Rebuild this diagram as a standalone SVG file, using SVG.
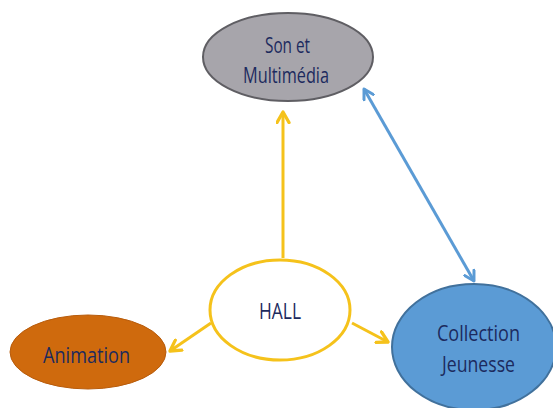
<svg xmlns="http://www.w3.org/2000/svg" width="553" height="408" viewBox="0 0 553 408">
  <style>
    .lbl { font-family: "Open Sans", "Liberation Sans", sans-serif; fill: #1c2a5e; font-size: 22px; }
    .yl { stroke: #f5c21b; stroke-width: 3; fill: none; }
    .bl { stroke: #5b9bd5; stroke-width: 3; fill: none; }
  </style>
  <defs>
    <marker id="openY" viewBox="0 0 10 10" refX="8" refY="5" markerWidth="5" markerHeight="5" orient="auto-start-reverse" markerUnits="strokeWidth">
      <path d="M1,1 L8,5 L1,9" fill="none" stroke="#f5c21b" stroke-width="2.2" stroke-linecap="round" stroke-linejoin="round"/>
    </marker>
    <marker id="openB" viewBox="0 0 10 10" refX="8" refY="5" markerWidth="4.5" markerHeight="4.5" orient="auto-start-reverse" markerUnits="strokeWidth">
      <path d="M1,1 L8,5 L1,9" fill="none" stroke="#5b9bd5" stroke-width="2.2" stroke-linecap="round" stroke-linejoin="round"/>
    </marker>
  </defs>
  <rect width="553" height="408" fill="#ffffff"/>

  <g id="connectors">
    <line class="yl" x1="283" y1="258" x2="283" y2="112" marker-end="url(#openY)"/>
    <line class="yl" x1="211" y1="323" x2="170" y2="351" marker-end="url(#openY)"/>
    <line class="yl" x1="352" y1="323" x2="388" y2="342" marker-end="url(#openY)"/>
    <line class="bl" x1="364" y1="89" x2="474" y2="281" marker-start="url(#openB)" marker-end="url(#openB)"/>
  </g>

  <g id="son-multimedia">
    <ellipse cx="288" cy="57" rx="85" ry="44" fill="#a7a5ab" stroke="#5f5e63" stroke-width="2"/>
    <text class="lbl" x="265" y="53" textLength="45" lengthAdjust="spacingAndGlyphs">Son et</text>
    <text class="lbl" x="243" y="83" textLength="86" lengthAdjust="spacingAndGlyphs">Multimédia</text>
  </g>

  <g id="hall">
    <ellipse cx="280" cy="310" rx="70" ry="50" fill="#ffffff" stroke="#f5c21b" stroke-width="3"/>
    <text class="lbl" x="259" y="319" font-size="24" textLength="42" lengthAdjust="spacingAndGlyphs">HALL</text>
  </g>

  <g id="animation">
    <ellipse cx="88" cy="352" rx="78" ry="37" fill="#cf6a0d" stroke="#b85c0c" stroke-width="1"/>
    <text class="lbl" x="43" y="363" font-size="25" textLength="87" lengthAdjust="spacingAndGlyphs">Animation</text>
  </g>

  <g id="collection-jeunesse">
    <ellipse cx="474" cy="347" rx="82" ry="63" fill="#5b9bd5" stroke="#41719c" stroke-width="2"/>
    <text class="lbl" x="437" y="341" textLength="83" lengthAdjust="spacingAndGlyphs">Collection</text>
    <text class="lbl" x="442" y="372" textLength="73" lengthAdjust="spacingAndGlyphs">Jeunesse</text>
  </g>
</svg>
